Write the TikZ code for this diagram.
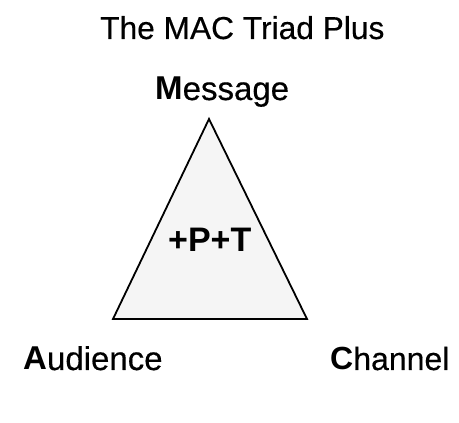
\documentclass[tikz,border=0pt]{standalone}
\usepackage{fontspec}
\setmainfont{Liberation Sans}
\newfontfamily\heavyfont[FakeBold=0.4]{Liberation Sans}
\begin{document}
\begin{tikzpicture}[x=1pt,y=1pt,
  lbl/.style={anchor=base west,inner sep=0pt,font=\heavyfont\fontsize{33}{38}\selectfont},
  tri/.style={draw=black,line width=1.8pt,fill=black!4,line join=miter}]
\useasboundingbox (0,0) rectangle (459,423);
\coordinate (apex) at (209,304);
\coordinate (bl) at (113,104);
\coordinate (br) at (307,104);
\draw[tri] (apex) -- (bl) -- (br) -- cycle;
\node[lbl,font=\heavyfont\fontsize{31.7}{38}\selectfont] (title) at (100,384) {The MAC Triad Plus};
\node[lbl] (msg) at (155,323) {{\normalfont\fontsize{33}{38}\selectfont\bfseries M}essage};
\node[lbl,font=\fontsize{34}{38}\selectfont\bfseries] (pt) at (168,171) {+P+T};
\node[lbl] (aud) at (23,53) {{\normalfont\fontsize{33}{38}\selectfont\bfseries A}udience};
\node[lbl,font=\heavyfont\fontsize{32}{38}\selectfont] (chan) at (330,53) {{\normalfont\fontsize{32}{38}\selectfont\bfseries C}hannel};
\end{tikzpicture}
\end{document}
